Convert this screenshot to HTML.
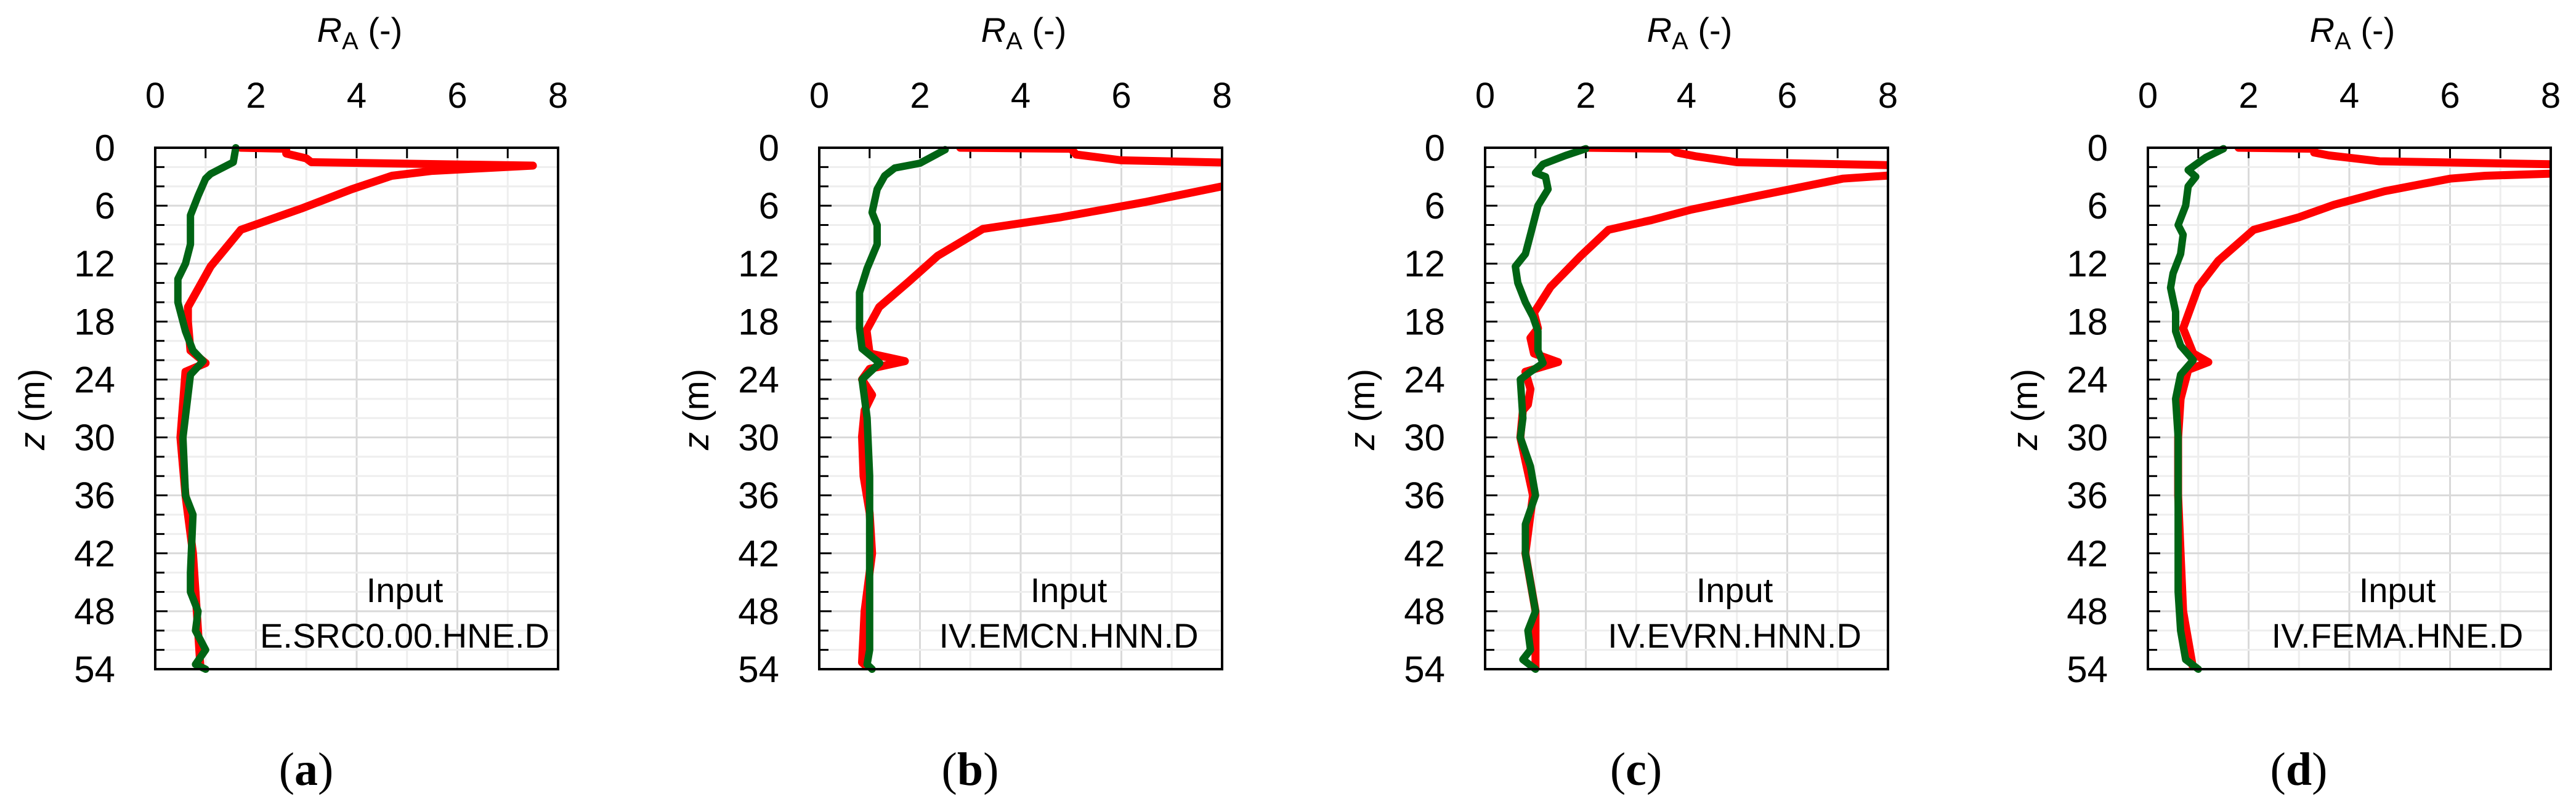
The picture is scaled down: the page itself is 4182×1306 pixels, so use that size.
<!DOCTYPE html>
<html><head><meta charset="utf-8"><style>
html,body{margin:0;padding:0;background:#fff;}
svg{display:block;}
text{font-family:"Liberation Sans",sans-serif;fill:#000;}
</style></head><body>
<svg id="chart" width="4182" height="1306" viewBox="0 0 4182 1306" xmlns="http://www.w3.org/2000/svg"></svg>
<script>
const panelLetters = ["a","b","c","d"];
const stationNames = ["E.SRC0.00.HNE.D","IV.EMCN.HNN.D","IV.EVRN.HNN.D","IV.FEMA.HNE.D"];
const xTicks = [0,2,4,6,8];
const yTicks = [0,6,12,18,24,30,36,42,48,54];
// red series: depth (m) and RA values
const redZa = [0,0.1,0.6,1.1,1.5,1.85,2.4,2.9,4.3,6.3,8.5,12.3,16.5,18,21,22.3,23.2,30,36,42,54];
const redXa = [1.7,2.6,2.6,3.0,3.1,7.5,5.5,4.7,3.9,2.9,1.7,1.1,0.65,0.65,0.7,1.0,0.6,0.5,0.6,0.75,0.9];
const greenZa = [0,1.5,2.7,3.2,5,7,10,12,13.6,16,19,21,22.1,23.5,30,36,38,44,46,48,50,52,53.5,54];
const greenXa = [1.6,1.55,1.1,1.0,0.85,0.7,0.7,0.6,0.45,0.45,0.6,0.75,0.95,0.7,0.55,0.6,0.75,0.7,0.7,0.85,0.8,1.0,0.8,1.0];
const redZb = [0,0.1,0.7,1.3,1.7,4.0,5.6,7.2,8.4,11.2,13.9,16.5,18.9,21.3,22.1,22.9,24,25.6,27.2,29.9,34,37.8,42,48,53.3,54];
const redXb = [2.8,5.0,5.1,6.0,9.5,8.0,6.5,4.8,3.25,2.35,1.77,1.19,0.94,1.0,1.7,1.0,0.85,1.05,0.9,0.85,0.88,1.0,1.05,0.9,0.85,1.0];
const greenZb = [0.2,1.6,2.1,2.9,4.3,6.7,8,10,12.5,15,18.7,20.8,22.3,24,28,34,40,46,52,53.5,54];
const greenXb = [2.5,2.0,1.5,1.3,1.15,1.05,1.15,1.15,0.95,0.8,0.8,0.85,1.2,0.85,0.95,1.0,1.0,1.0,1.0,0.95,1.05];
const redZc = [0,0.1,0.5,0.9,1.5,1.9,2.7,3.2,5.1,6.4,7.5,8.5,11.2,14.4,17.1,18.7,19.7,21.3,22.2,23.2,25,26.6,27.2,30,36,42,48,54];
const redXc = [2.0,3.7,3.8,4.2,5.0,9.0,8.5,7.1,5.3,4.1,3.3,2.45,1.9,1.3,0.97,1.05,0.9,0.97,1.45,0.8,0.9,0.85,0.75,0.7,0.95,0.8,1.0,1.0];
const greenZc = [0.1,0.8,1.7,2.6,3.0,4.3,6,9,11,12.3,14,16,17.5,19,21,22.3,23.2,24,28,30,33,36,39,42,45,48,50,52,53,54];
const greenXc = [2.0,1.6,1.15,1.0,1.2,1.25,1.05,0.9,0.8,0.6,0.65,0.8,0.95,1.05,1.05,1.15,0.9,0.7,0.75,0.7,0.9,1.0,0.8,0.8,0.9,1.0,0.85,0.9,0.75,1.0];
const redZd = [0,0.1,0.5,0.8,1.4,1.8,2.6,2.9,3.2,4.5,5.9,7.2,8.5,11.7,14.4,18.7,21.3,22.2,23,26,30,36,42,48,54];
const redXd = [1.8,3.3,3.3,3.6,4.6,9.0,8.5,6.7,6.0,4.7,3.7,3.0,2.1,1.4,1.0,0.7,0.9,1.2,0.8,0.65,0.6,0.6,0.65,0.7,0.9];
const greenZd = [0.1,1,2.3,3,4,6,8,9,11,13,14.5,17,19,20.5,22,23.5,26,30,36,40,46,50,53,54];
const greenXd = [1.5,1.15,0.8,0.95,0.8,0.75,0.6,0.7,0.65,0.5,0.45,0.55,0.55,0.65,0.9,0.65,0.55,0.6,0.6,0.6,0.6,0.65,0.75,1.0];

const redZ=[redZa,redZb,redZc,redZd], redX=[redXa,redXb,redXc,redXd];
const greenZ=[greenZa,greenZb,greenZc,greenZd], greenX=[greenXa,greenXb,greenXc,greenXd];

const NS="http://www.w3.org/2000/svg";
const svg=document.getElementById('chart');
const lefts=[252,1330,2411,3487], W=654, TOP=240, H=847, XMAX=8, ZMAX=54;
function mk(tag,attrs,parent){const e=document.createElementNS(NS,tag);for(const k in attrs)e.setAttribute(k,attrs[k]);(parent||svg).appendChild(e);return e;}
const defs=mk('defs',{});
for(let p=0;p<4;p++){
  const L=lefts[p];
  const xs=v=>L+v/XMAX*W, ys=z=>TOP+z/ZMAX*H;
  const g=mk('g',{});
  
  
  const cp=mk('clipPath',{id:'clip'+p},defs);
  mk('rect',{x:L,y:TOP,width:W,height:H},cp);
  const grid=mk('g',{},g);
  
  
  for(let v=1;v<XMAX;v++){
    mk('line',{x1:xs(v),x2:xs(v),y1:TOP,y2:TOP+H,stroke:v%2?'#eeeeee':'#d9d9d9','stroke-width':3},grid);
  }
  for(let z=2;z<ZMAX;z+=2){
    mk('line',{x1:L,x2:L+W,y1:ys(z),y2:ys(z),stroke:z%6?'#eeeeee':'#d9d9d9','stroke-width':3},grid);
  }
  for(let v=1;v<XMAX;v++) mk('line',{x1:xs(v),x2:xs(v),y1:TOP,y2:TOP+17,stroke:'#000','stroke-width':3},g);
  for(let z=2;z<ZMAX;z+=2) mk('line',{x1:L,x2:L+(z%6?15:20),y1:ys(z),y2:ys(z),stroke:'#000','stroke-width':3},g);
  const rpts=redZ[p].map((z,i)=>xs(redX[p][i]).toFixed(1)+','+ys(z).toFixed(1)).join(' ');
  const red=mk('polyline',{points:rpts,fill:'none',stroke:'#ff0000','stroke-width':13,'stroke-linejoin':'round','stroke-linecap':'round','clip-path':'url(#clip'+p+')'},g);
  
  
  const gpts=greenZ[p].map((z,i)=>xs(greenX[p][i]).toFixed(1)+','+ys(z).toFixed(1)).join(' ');
  const green=mk('polyline',{points:gpts,fill:'none',stroke:'#006414','stroke-width':12,'stroke-linejoin':'round','stroke-linecap':'round'},g);
  
  
  const box=mk('rect',{x:L,y:TOP,width:W,height:H,fill:'none',stroke:'#000','stroke-width':4},g);
  
  
  xTicks.forEach(v=>{const t=mk('text',{x:xs(v),y:175,'font-size':58,'text-anchor':'middle'},g);t.textContent=v;
    
    });
  yTicks.forEach(z=>{const t=mk('text',{x:L-65,y:ys(z)+21,'font-size':60,'text-anchor':'end'},g);t.textContent=z;
    
    });
  const xt=mk('text',{x:L+W/2+5,y:68,'font-size':56,'text-anchor':'middle'},g);
  
  
  xt.innerHTML='<tspan font-style="italic">R</tspan><tspan font-size="40" dy="12">A</tspan><tspan dy="-12"> (-)</tspan>';
  const yt=mk('text',{x:0,y:0,'font-size':58,'text-anchor':'middle',transform:'translate('+(L-180)+',665) rotate(-90)'},g);
  
  
  yt.innerHTML='<tspan font-style="italic">z</tspan> (m)';
  const a1=mk('text',{x:L+405,y:978,'font-size':56,'text-anchor':'middle'},g);a1.textContent='Input';
  
  
  const a2=mk('text',{x:L+405,y:1052,'font-size':56,'text-anchor':'middle'},g);a2.textContent=stationNames[p];
  
  
  const pl=mk('text',{x:L+245,y:1275,'font-size':76,'text-anchor':'middle',style:'font-family:"Liberation Serif",serif'},g);
  
  
  pl.innerHTML='(<tspan font-weight="bold">'+panelLetters[p]+'</tspan>)';
}
</script>
</body></html>
